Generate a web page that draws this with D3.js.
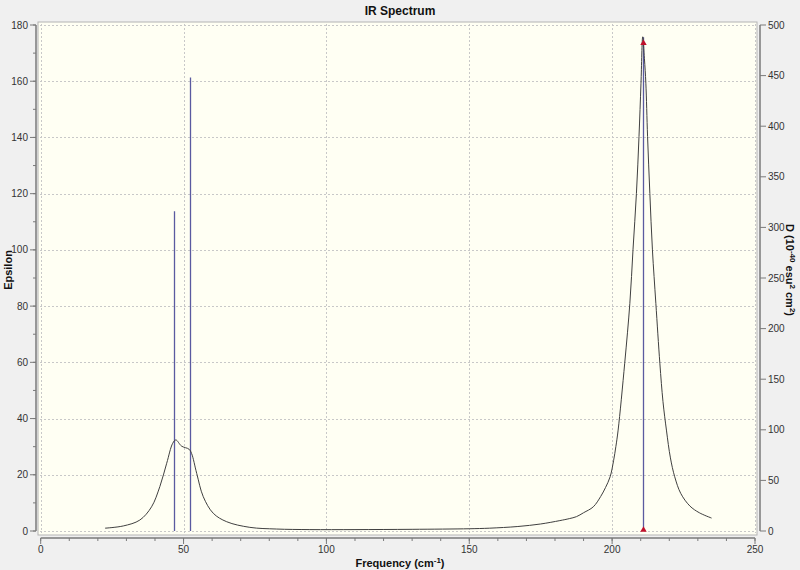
<!DOCTYPE html>
<html><head><meta charset="utf-8">
<script src="https://cdn.jsdelivr.net/npm/d3@7"></script>
<style>body{margin:0;background:#f0f0f0;}svg{display:block;}</style>
</head><body>
<svg id="c" width="800" height="570"></svg>
<script>
// Spectrum curve (frequency cm^-1, epsilon)
const curveFreq = [22.5,28.9,34.7,38.8,41.7,44.1,46.2,47.3,49.3,51.9,52.8,54.6,56.9,60.4,65.1,73.2,82.6,94.2,110,130,150,157,167,175,181.7,185,187.5,190,193.4,196,197.7,199.3,200.5,201.3,202.1,204.4,206.2,207.3,208.5,209.4,210.1,210.7,211.3,211.8,212.4,213.2,214.1,215.3,216.7,217.8,219.0,220.4,221.9,224,227.2,230.5,234.8];
const curveEps  = [1.0,1.8,3.9,8.6,15.8,24.1,31.2,32.4,30.2,29.1,27.6,20.5,12.2,6.3,3.3,1.3,0.7,0.5,0.5,0.6,0.8,1.0,1.6,2.5,3.7,4.4,5.1,6.5,8.6,12.3,15.5,19.3,25,30,35.9,59.7,81.0,100,120.1,140.3,159.3,175.8,168,159.3,140.3,120.1,100,81.0,59.7,46,35.9,26,19.3,13.4,8.9,6.5,4.6];
// Stick spectrum (frequency, D in 10^-40 esu^2 cm^2)
const stickFreq = [46.6, 52.3, 210.7];
const stickD    = [316, 448, 488];
const markedFreq = [210.7];
const markedD = [482];
// axis ticks
const xTicks = [0,50,100,150,200,250];
const xMinor = d3.range(0,251,10);
const yLeftTicks = [0,20,40,60,80,100,120,140,160,180];
const yLeftMinor = d3.range(0,181,10);
const yRightTicks = [0,50,100,150,200,250,300,350,400,450,500];

const svg = d3.select('#c');
const x = d3.scaleLinear().domain([0,250]).range([40.7,755]);
const yL = d3.scaleLinear().domain([0,180]).range([531,25]);
const yR = d3.scaleLinear().domain([0,500]).range([531,25]);

svg.append('rect').attr('width',800).attr('height',570).attr('fill','#f0f0f0');
// plot box
svg.append('rect').attr('x',38).attr('y',22).attr('width',719).attr('height',513)
  .attr('fill','#fffff3').attr('stroke','#b4b4b4').attr('stroke-width',1);

// grid
const g = svg.append('g').attr('stroke','#c8c8c8').attr('stroke-dasharray','2,2').attr('stroke-width',1);
g.selectAll('.vg').data(xTicks).join('line')
  .attr('x1',d=>Math.round(x(d))+0.5).attr('x2',d=>Math.round(x(d))+0.5).attr('y1',24).attr('y2',533);
g.selectAll('.hg').data(yLeftTicks).join('line')
  .attr('y1',d=>Math.round(yL(d))+0.5).attr('y2',d=>Math.round(yL(d))+0.5).attr('x1',40).attr('x2',755);

const font = '"Liberation Sans", Arial, sans-serif';
const axisColor = '#7a7a7a';

// left axis
const la = svg.append('g');
la.append('line').attr('x1',36).attr('x2',36).attr('y1',yL(180)).attr('y2',yL(0)).attr('stroke',axisColor).attr('stroke-width',1.5);
la.selectAll('.mi').data(yLeftMinor).join('line').attr('x1',33).attr('x2',36)
  .attr('y1',d=>yL(d)).attr('y2',d=>yL(d)).attr('stroke',axisColor);
la.selectAll('.ma').data(yLeftTicks).join('line').attr('x1',30).attr('x2',36)
  .attr('y1',d=>yL(d)).attr('y2',d=>yL(d)).attr('stroke',axisColor);
la.selectAll('text').data(yLeftTicks).join('text').attr('x',28).attr('y',d=>yL(d)+3.5)
  .attr('text-anchor','end').attr('font-family',font).attr('font-size',10).attr('fill','#333').text(d=>d);

// right axis
const ra = svg.append('g');
ra.append('line').attr('x1',760).attr('x2',760).attr('y1',yR(500)).attr('y2',yR(0)).attr('stroke',axisColor).attr('stroke-width',1.5);
ra.selectAll('line.t').data(yRightTicks).join('line').attr('class','t').attr('x1',760).attr('x2',766)
  .attr('y1',d=>yR(d)).attr('y2',d=>yR(d)).attr('stroke',axisColor);
ra.selectAll('text').data(yRightTicks).join('text').attr('x',768).attr('y',d=>yR(d)+3.5)
  .attr('text-anchor','start').attr('font-family',font).attr('font-size',10).attr('fill','#333').text(d=>d);

// bottom axis
const ba = svg.append('g');
ba.append('line').attr('x1',x(0)).attr('x2',x(250)).attr('y1',538).attr('y2',538).attr('stroke',axisColor).attr('stroke-width',1.5);
ba.selectAll('line.mi').data(xMinor).join('line').attr('class','mi').attr('x1',d=>x(d)).attr('x2',d=>x(d))
  .attr('y1',538).attr('y2',541).attr('stroke',axisColor);
ba.selectAll('line.ma').data(xTicks).join('line').attr('class','ma').attr('x1',d=>x(d)).attr('x2',d=>x(d))
  .attr('y1',538).attr('y2',544).attr('stroke',axisColor);
ba.selectAll('text').data(xTicks).join('text').attr('x',d=>x(d)).attr('y',553)
  .attr('text-anchor','middle').attr('font-family',font).attr('font-size',10).attr('fill','#333').text(d=>d);

// sticks
svg.selectAll('.stick').data(stickFreq).join('line')
  .attr('x1',d=>Math.round(x(d))+0.5).attr('x2',d=>Math.round(x(d))+0.5)
  .attr('y1',yR(0)).attr('y2',(d,i)=>yR(stickD[i]))
  .attr('stroke','#5a5aa0').attr('stroke-width',1.3);

// curve
const pts = curveFreq.map((f,i)=>[f,curveEps[i]]);
svg.append('path').datum(pts)
  .attr('d', d3.line().x(d=>x(d[0])).y(d=>yL(d[1])).curve(d3.curveCatmullRom.alpha(0.5)))
  .attr('fill','none').attr('stroke','#404040').attr('stroke-width',1);

// markers
const tri = d3.symbol().type(d3.symbolTriangle).size(18);
svg.selectAll('.mk0').data(markedFreq).join('path')
  .attr('d',tri).attr('transform',d=>`translate(${Math.round(x(d))+0.5},${yR(0)-1})`).attr('fill','#c0102a');
svg.selectAll('.mk1').data(markedFreq).join('path')
  .attr('d',tri).attr('transform',(d,i)=>`translate(${Math.round(x(d))+0.5},${yR(markedD[i])})`).attr('fill','#c0102a');

// titles
svg.append('text').attr('x',400).attr('y',15).attr('text-anchor','middle').attr('font-family',font)
  .attr('font-size',12).attr('font-weight','bold').attr('fill','#111').text('IR Spectrum');
svg.append('text').attr('transform','translate(12,270) rotate(-90)').attr('text-anchor','middle').attr('font-family',font)
  .attr('font-size',11).attr('font-weight','bold').attr('fill','#111').text('Epsilon');
const xl = svg.append('text').attr('x',400).attr('y',567).attr('text-anchor','middle').attr('font-family',font)
  .attr('font-size',11).attr('font-weight','bold').attr('fill','#111');
xl.append('tspan').text('Frequency (cm');
xl.append('tspan').attr('baseline-shift','super').attr('font-size',8).text('-1');
xl.append('tspan').text(')');
const rl = svg.append('text').attr('transform','translate(786,270) rotate(90)').attr('text-anchor','middle').attr('font-family',font)
  .attr('font-size',11).attr('font-weight','bold').attr('fill','#111');
rl.append('tspan').text('D (10');
rl.append('tspan').attr('baseline-shift','super').attr('font-size',8).text('-40');
rl.append('tspan').text(' esu');
rl.append('tspan').attr('baseline-shift','super').attr('font-size',8).text('2');
rl.append('tspan').text(' cm');
rl.append('tspan').attr('baseline-shift','super').attr('font-size',8).text('2');
rl.append('tspan').text(')');
</script>
</body></html>
